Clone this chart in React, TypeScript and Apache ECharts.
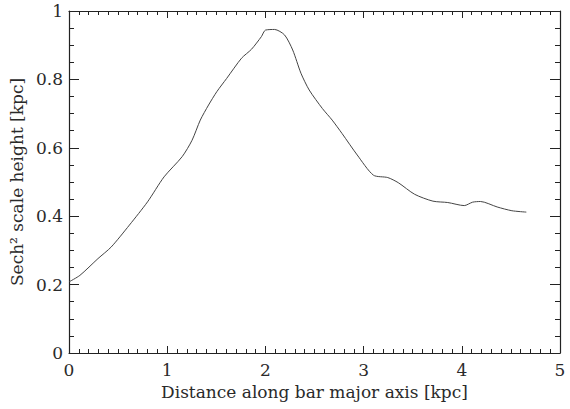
import React, { useEffect, useRef } from "react";
import * as echarts from "echarts";

const distance = [0.0, 0.111, 0.295, 0.43, 0.615, 0.8, 0.968, 1.152, 1.253, 1.337, 1.421, 1.505, 1.606, 1.757, 1.858, 1.959, 2.0, 2.094, 2.195, 2.278, 2.362, 2.446, 2.58, 2.68, 2.78, 2.935, 3.1, 3.246, 3.353, 3.52, 3.706, 3.857, 4.025, 4.11, 4.19, 4.36, 4.51, 4.657];
const scaleHeight = [0.208, 0.227, 0.276, 0.31, 0.374, 0.442, 0.515, 0.574, 0.622, 0.681, 0.725, 0.764, 0.803, 0.862, 0.888, 0.925, 0.944, 0.946, 0.93, 0.886, 0.818, 0.769, 0.715, 0.681, 0.642, 0.579, 0.52, 0.513, 0.498, 0.464, 0.444, 0.44, 0.431, 0.441, 0.443, 0.427, 0.416, 0.412];

const xTitle = "Distance along bar major axis [kpc]";
const yTitle = "Sech² scale height [kpc]";

const FONT = "DejaVu Serif";
const AX = "#222";
const TXT = "#2a2a2a";

export default function App() {
  const ref = useRef<HTMLDivElement>(null);
  useEffect(() => {
    if (!ref.current) return;
    const chart = echarts.init(ref.current, undefined, { renderer: "svg" });
    const fmt = (v: number) => String(Math.round(v * 10) / 10);
    const baseX = {
      type: "value" as const,
      min: 0,
      max: 5,
      interval: 1,
      axisLine: { show: true, onZero: false, lineStyle: { color: AX, width: 1.2 } },
      axisTick: { show: true, inside: true, length: 7, lineStyle: { color: AX } },
      minorTick: { show: true, splitNumber: 10, length: 4, lineStyle: { color: AX } },
      splitLine: { show: false },
    };
    const baseY = {
      type: "value" as const,
      min: 0,
      max: 1,
      interval: 0.2,
      axisLine: { show: true, onZero: false, lineStyle: { color: AX, width: 1.2 } },
      axisTick: { show: true, inside: true, length: 10, lineStyle: { color: AX } },
      minorTick: { show: true, splitNumber: 4, length: 5, lineStyle: { color: AX } },
      splitLine: { show: false },
    };
    chart.setOption({
      animation: false,
      backgroundColor: "#fff",
      grid: { left: 64, right: 10, top: 11, bottom: 56, containLabel: false },
      xAxis: [
        {
          ...baseX,
          position: "bottom",
          axisLabel: { show: true, fontFamily: FONT, fontSize: 17, color: TXT, margin: 8, formatter: fmt },
          name: xTitle,
          nameLocation: "middle",
          nameGap: 30,
          nameTextStyle: { fontFamily: FONT, fontSize: 17, color: TXT },
        },
        { ...baseX, position: "top", axisLabel: { show: false } },
      ],
      yAxis: [
        {
          ...baseY,
          position: "left",
          axisLabel: { show: true, fontFamily: FONT, fontSize: 17, color: TXT, margin: 6, formatter: fmt },
          name: yTitle,
          nameLocation: "middle",
          nameGap: 44,
          nameTextStyle: { fontFamily: FONT, fontSize: 17, color: TXT },
        },
        { ...baseY, position: "right", axisLabel: { show: false } },
      ],
      series: [
        {
          type: "line",
          data: distance.map((d, i) => [d, scaleHeight[i]]),
          showSymbol: false,
          smooth: 0.25,
          lineStyle: { color: "#444", width: 1 },
        },
      ],
    });
    return () => chart.dispose();
  }, []);
  return <div ref={ref} style={{ width: 570, height: 409, position: "absolute", left: 0, top: 0 }} />;
}
